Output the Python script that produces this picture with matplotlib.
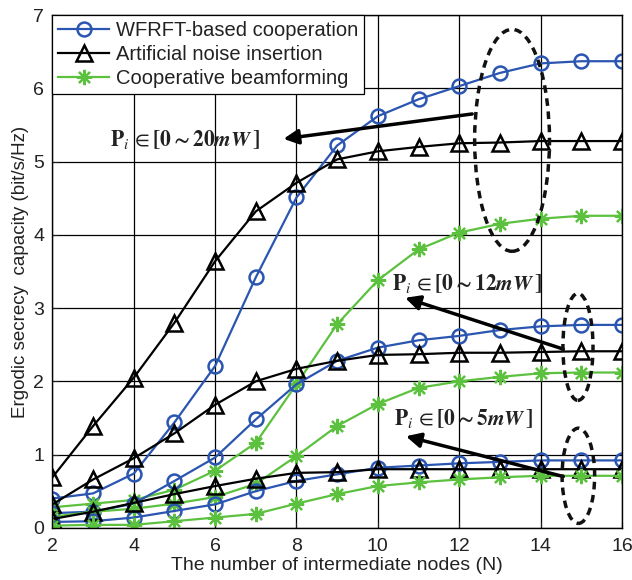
import matplotlib
matplotlib.use('Agg')
import matplotlib.pyplot as plt
from matplotlib.patches import Ellipse

plt.rcParams['font.family'] = ['Liberation Sans', 'DejaVu Sans']
plt.rcParams['mathtext.fontset'] = 'stix'

# number of intermediate nodes
nodes = [2, 3, 4, 5, 6, 7, 8, 9, 10, 11, 12, 13, 14, 15, 16]

# Pi in [0 ~ 20mW]
wfrft_20 = [0.40, 0.47, 0.74, 1.44, 2.21, 3.42, 4.51, 5.22, 5.62, 5.85, 6.03, 6.21, 6.34, 6.37, 6.37]
an_20 = [0.69, 1.39, 2.05, 2.80, 3.64, 4.32, 4.71, 5.03, 5.14, 5.20, 5.25, 5.26, 5.28, 5.28, 5.28]
cb_20 = [0.28, 0.33, 0.38, 0.52, 0.78, 1.16, 1.96, 2.78, 3.38, 3.80, 4.03, 4.15, 4.22, 4.26, 4.26]

# Pi in [0 ~ 12mW]
wfrft_12 = [0.20, 0.22, 0.33, 0.64, 0.96, 1.48, 1.96, 2.28, 2.46, 2.56, 2.62, 2.70, 2.75, 2.77, 2.77]
an_12 = [0.32, 0.66, 0.95, 1.29, 1.68, 2.00, 2.17, 2.28, 2.36, 2.37, 2.39, 2.39, 2.40, 2.41, 2.41]
cb_12 = [0.15, 0.22, 0.26, 0.33, 0.42, 0.60, 0.98, 1.39, 1.69, 1.91, 2.00, 2.06, 2.11, 2.12, 2.12]

# Pi in [0 ~ 5mW]
wfrft_5 = [0.08, 0.09, 0.14, 0.23, 0.32, 0.50, 0.64, 0.73, 0.82, 0.85, 0.88, 0.90, 0.92, 0.92, 0.92]
an_5 = [0.12, 0.22, 0.34, 0.46, 0.57, 0.67, 0.75, 0.76, 0.80, 0.80, 0.80, 0.80, 0.80, 0.80, 0.80]
cb_5 = [0.03, 0.04, 0.04, 0.09, 0.14, 0.19, 0.33, 0.46, 0.57, 0.62, 0.66, 0.69, 0.71, 0.71, 0.71]

legend_names = ['WFRFT-based cooperation', 'Artificial noise insertion', 'Cooperative beamforming']

blue = '#2a55b0'
green = '#5cc13e'
star = (8, 2, 0)

fig = plt.figure(figsize=(6.32, 5.8), dpi=100)
ax = fig.add_axes([0.083, 0.09, 0.901, 0.884])

wstyle = dict(color=blue, marker='o', markersize=10, markerfacecolor='none',
              markeredgewidth=1.8, lw=1.6)
astyle = dict(color='black', marker='^', markersize=11, markerfacecolor='none',
              markeredgewidth=1.8, lw=1.6)
cstyle = dict(color=green, marker=star, markersize=11, markeredgewidth=1.6, lw=1.6)

h1, = ax.plot(nodes, wfrft_20, **wstyle)
h2, = ax.plot(nodes, an_20, **astyle)
h3, = ax.plot(nodes, cb_20, **cstyle)
ax.plot(nodes, wfrft_12, **wstyle)
ax.plot(nodes, an_12, **astyle)
ax.plot(nodes, cb_12, **cstyle)
ax.plot(nodes, wfrft_5, **wstyle)
ax.plot(nodes, an_5, **astyle)
ax.plot(nodes, cb_5, **cstyle)

ax.set_xlim(2, 16)
ax.set_ylim(0, 7)
ax.set_xticks(range(2, 17, 2))
ax.set_yticks(range(0, 8))
ax.grid(True, color='black', lw=0.9)
ax.tick_params(direction='in', labelsize=14, length=4, colors='#222222')
ax.tick_params(axis='x', pad=7)
ax.tick_params(axis='y', pad=6)
for s in ax.spines.values():
    s.set_linewidth(1.0)

ax.set_xlabel('The number of intermediate nodes (N)', fontsize=14, labelpad=2, color='#222222')
ax.set_ylabel('Ergodic secrecy  capacity (bit/s/Hz)', fontsize=13.5, labelpad=3, color='#222222')

leg = ax.legend([h1, h2, h3], legend_names, loc='upper left', fontsize=14.5,
                fancybox=False, framealpha=1, edgecolor='black',
                borderaxespad=0, handlelength=2.5, borderpad=0.3,
                labelspacing=0.25, handletextpad=0.35)
leg.get_frame().set_linewidth(0.9)
for t in leg.get_texts():
    t.set_color('#222222')

# annotations
labels = [r'$\mathbf{P}_{\mathit{i}}\,\in\mathbf{[0\sim20}\mathbfit{mW}\,\mathbf{]}$',
          r'$\mathbf{P}_{\mathit{i}}\,\in\mathbf{[0\sim12}\mathbfit{mW}\,\mathbf{]}$',
          r'$\mathbf{P}_{\mathit{i}}\,\in\mathbf{[0\sim5}\mathbfit{mW}\,\mathbf{]}$']
text_pos = [(5.25, 5.3), (12.2, 3.34), (12.1, 1.49)]
arrow_head = [(7.68, 5.31), (10.67, 3.14), (10.69, 1.25)]
arrow_tail = [(12.32, 5.65), (14.56, 2.44), (14.56, 0.70)]
ell_center = [(13.3, 5.29), (14.92, 2.47), (14.93, 0.71)]
ell_size = [(1.84, 3.03), (0.74, 1.46), (0.8, 1.3)]

for lab, tp in zip(labels, text_pos):
    ax.text(tp[0], tp[1], lab, fontsize=15.5, ha='center', va='center', color='#222222')
for hd, tl in zip(arrow_head, arrow_tail):
    ax.annotate('', xy=hd, xytext=tl,
                arrowprops=dict(arrowstyle='-|>', color='black', lw=2.5,
                                mutation_scale=22, shrinkA=0, shrinkB=0))
for c, sz in zip(ell_center, ell_size):
    ax.add_patch(Ellipse(c, sz[0], sz[1], fill=False, edgecolor='#111111',
                         lw=2.5, linestyle=(0, (2.2, 1.6)), zorder=5))

fig.savefig('out.png', dpi=100)
